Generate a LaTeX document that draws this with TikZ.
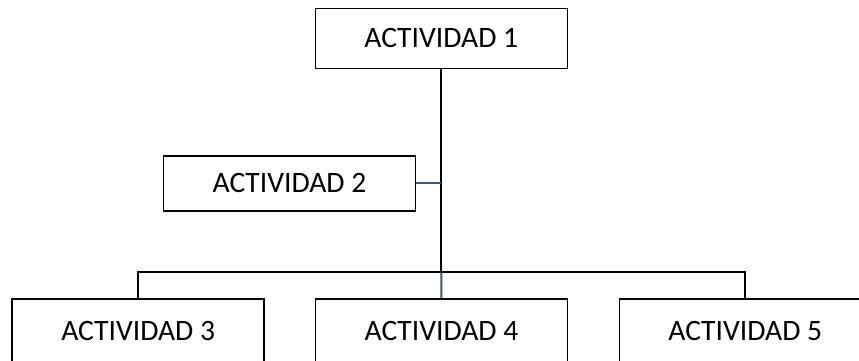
\documentclass[tikz,border=0pt]{standalone}
\usepackage{fontspec}
\setmainfont{Carlito}
\newlength{\boxwidth}
\setlength{\boxwidth}{126pt}
\definecolor{slate}{RGB}{68,84,106}

\tikzset{
    actividad/.style={draw, line width=0.8pt, minimum width=\boxwidth,
        minimum height=30pt, inner sep=0pt, font=\fontsize{14.8}{18}\selectfont},
    enlace/.style={line width=1pt},
}

\begin{document}
\begin{tikzpicture}[x=0.5pt, y=-0.5pt]
    \useasboundingbox (0,0) rectangle (859,360);
    \clip (0,0) rectangle (859,360);

    \node[actividad] (a1) at (441.3, 38.3) {ACTIVIDAD 1};
    \node[actividad, minimum height=27.5pt] (a2) at (289.5, 183.2) {ACTIVIDAD 2};
    \node[actividad, minimum height=32pt] (a3) at (138.2, 331) {ACTIVIDAD 3};
    \node[actividad, minimum height=32pt] (a4) at (441.5, 331) {ACTIVIDAD 4};
    \node[actividad, minimum height=32pt] (a5) at (745.3, 331) {ACTIVIDAD 5};

    \coordinate (j) at (a1.south |- 0,272);

    \draw[enlace] (a1.south) -- (j);
    \draw[enlace, slate] (j) -- (a4.north);
    \draw[enlace, slate] (a2.east) -- (a2.east -| a1.south);
    \draw[enlace] (a3.north) -- (a3.north |- j) -- (a5.north |- j) -- (a5.north);
\end{tikzpicture}
\end{document}
